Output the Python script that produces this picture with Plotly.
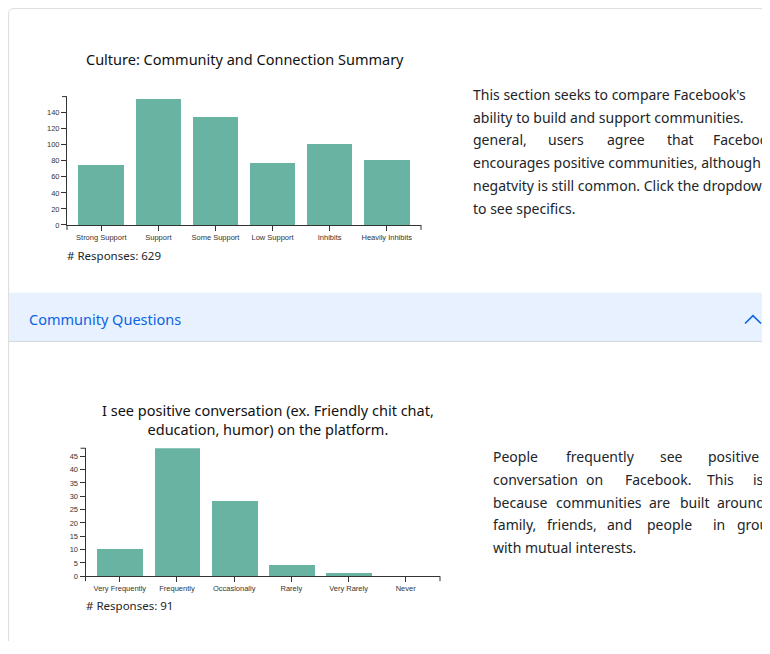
import plotly.graph_objects as go

# ---------------- data ----------------
summary_title = "Culture: Community and Connection Summary"
summary_categories = ["Strong Support", "Support", "Some Support", "Low Support", "Inhibits", "Heavily Inhibits"]
summary_values = [75, 158, 135, 78, 102, 81]
summary_ticks = [0, 20, 40, 60, 80, 100, 120, 140]
summary_ymax = 160

question_title = "I see positive conversation (ex. Friendly chit chat,<br>education, humor) on the platform."
question_categories = ["Very Frequently", "Frequently", "Occasionally", "Rarely", "Very Rarely", "Never"]
question_values = [10, 48, 28, 4, 1, 0]
question_ticks = [0, 5, 10, 15, 20, 25, 30, 35, 40, 45]
question_ymax = 48

# paragraph lines: a single string = natural spacing, a list = justified words
summary_text_lines = [
    "This section seeks to compare Facebook's",
    ["ability to build and support communities.", "In"],
    ["general,", "users", "agree", "that", "Facebook"],
    "encourages positive communities, although",
    "negatvity is still common. Click the dropdown",
    "to see specifics.",
]
summary_word_x = [None, [473, 767], [473, 548, 607, 667, 713], None, None, None]

question_text_lines = [
    ["People", "frequently", "see", "positive"],
    ["conversation", "on", "Facebook.", "This", "is"],
    ["because", "communities", "are", "built", "around"],
    ["family,", "friends,", "and", "people", "in", "groups"],
    "with mutual interests.",
]
question_word_x = [
    [493, 566, 660, 708],
    [493, 586, 625, 707, 753],
    [493, 556, 649, 680, 717],
    [493, 547, 607, 647, 713, 737],
    None,
]

O = 8            # page body margin
W, H = 754, 638  # figure size
BAR = "#69b3a2"
AX = "#333333"
TEXT = "#212529"
FONT = "Noto Sans, Open Sans, sans-serif"
AXFONT = "Liberation Sans, Arial, sans-serif"


def px(x):
    return (x - O) / W


def py(y):
    return 1 - (y - O) / H


fig = go.Figure()
fig.add_bar(x=summary_categories, y=summary_values, xaxis="x", yaxis="y",
            marker=dict(color=BAR, line=dict(width=0)), width=0.8, hoverinfo="skip")
fig.add_bar(x=question_categories, y=question_values, xaxis="x2", yaxis="y2",
            marker=dict(color=BAR, line=dict(width=0)), width=0.8, hoverinfo="skip")

axis_common = dict(showline=True, linecolor=AX, linewidth=1, ticks="outside", ticklen=5,
                   tickcolor=AX, tickwidth=1, showgrid=False, zeroline=False,
                   tickfont=dict(family=AXFONT, size=7.5, color=AX), fixedrange=True)

# chart geometry (page px)
c1 = dict(x0=67, x1=421, y0=226.7, y1=97.3)
c2 = dict(x0=85.5, x1=440, y0=580.7, y1=451.7)

fig.update_layout(
    width=W, height=H, margin=dict(l=0, r=0, t=0, b=0),
    paper_bgcolor="white", plot_bgcolor="rgba(0,0,0,0)", showlegend=False,
    bargap=0,
    xaxis=dict(domain=[px(c1["x0"]), px(c1["x1"])], anchor="y", type="category",
               range=[-0.6, len(summary_categories) - 0.4], **axis_common),
    yaxis=dict(domain=[py(c1["y0"]), py(c1["y1"])], anchor="x", range=[0, summary_ymax],
               tickvals=summary_ticks, **axis_common),
    xaxis2=dict(domain=[px(c2["x0"]), px(c2["x1"])], anchor="y2", type="category",
                range=[-0.6, len(question_categories) - 0.4], **axis_common),
    yaxis2=dict(domain=[py(c2["y0"]), py(c2["y1"])], anchor="x2", range=[0, question_ymax],
                tickvals=question_ticks, **axis_common),
    xaxis3=dict(domain=[0, 1], range=[O, O + W], visible=False, fixedrange=True),
    yaxis3=dict(domain=[0, 1], range=[O + H, O], visible=False, fixedrange=True, anchor="x3"),
)

shapes = []
# card border with rounded top-left corner
shapes.append(dict(type="path", xref="x3", yref="y3",
                   path="M 8.6,700 L 8.6,14 Q 8.6,8.6 14,8.6 L 800,8.6",
                   line=dict(color="#dcdcdc", width=1), layer="below"))
# accordion header
shapes.append(dict(type="rect", xref="x3", yref="y3", x0=9, x1=800, y0=295, y1=343.5,
                   fillcolor="#e7f1ff", line=dict(width=0), layer="below"))
shapes.append(dict(type="line", xref="x3", yref="y3", x0=9, x1=800, y0=344, y1=344,
                   line=dict(color="#d3dae3", width=1.2), layer="below"))
# chevron
shapes.append(dict(type="path", xref="x3", yref="y3",
                   path="M 745,326 L 753,318 L 761,326",
                   line=dict(color="#0c63e4", width=1.6)))
# outer ticks (d3 domain path ends)
for c in (c1, c2):
    shapes.append(dict(type="line", xref="x3", yref="y3", x0=c["x0"] - 5, x1=c["x0"],
                       y0=c["y1"], y1=c["y1"], line=dict(color=AX, width=1)))
    for xx in (c["x0"], c["x1"]):
        shapes.append(dict(type="line", xref="x3", yref="y3", x0=xx, x1=xx,
                           y0=c["y0"], y1=c["y0"] + 5, line=dict(color=AX, width=1)))
fig.update_layout(shapes=shapes)

ann = []


def add_text(text, x, y, size, color=TEXT, xanchor="left", family=FONT):
    ann.append(dict(text=text, x=x, y=y, xref="x3", yref="y3", showarrow=False,
                    xanchor=xanchor, yanchor="middle", align="center", borderpad=0,
                    font=dict(family=family, size=size, color=color)))


add_text(summary_title, 244.5, 59, 14.5, color="#111111", xanchor="center")
add_text("# Responses: %d" % sum(summary_values), 66, 257, 11.5)
add_text(question_title, 268, 423, 14.5, color="#111111", xanchor="center")
add_text("# Responses: %d" % sum(question_values), 85, 610, 11.5)
add_text("Community Questions", 28, 321, 14.5, color="#0c63e4")

PSIZE = 14


def add_paragraph(lines, positions, left, top):
    for i, (line, xs) in enumerate(zip(lines, positions)):
        y = top + 23 * i
        if xs is None:
            add_text(line, left - 1, y, PSIZE)
        else:
            for w, x in zip(line, xs):
                add_text(w, x - 1, y, PSIZE)


add_paragraph(summary_text_lines, summary_word_x, 473, 95)
add_paragraph(question_text_lines, question_word_x, 493, 460)

fig.update_layout(annotations=ann)
fig.write_html("out.html")
